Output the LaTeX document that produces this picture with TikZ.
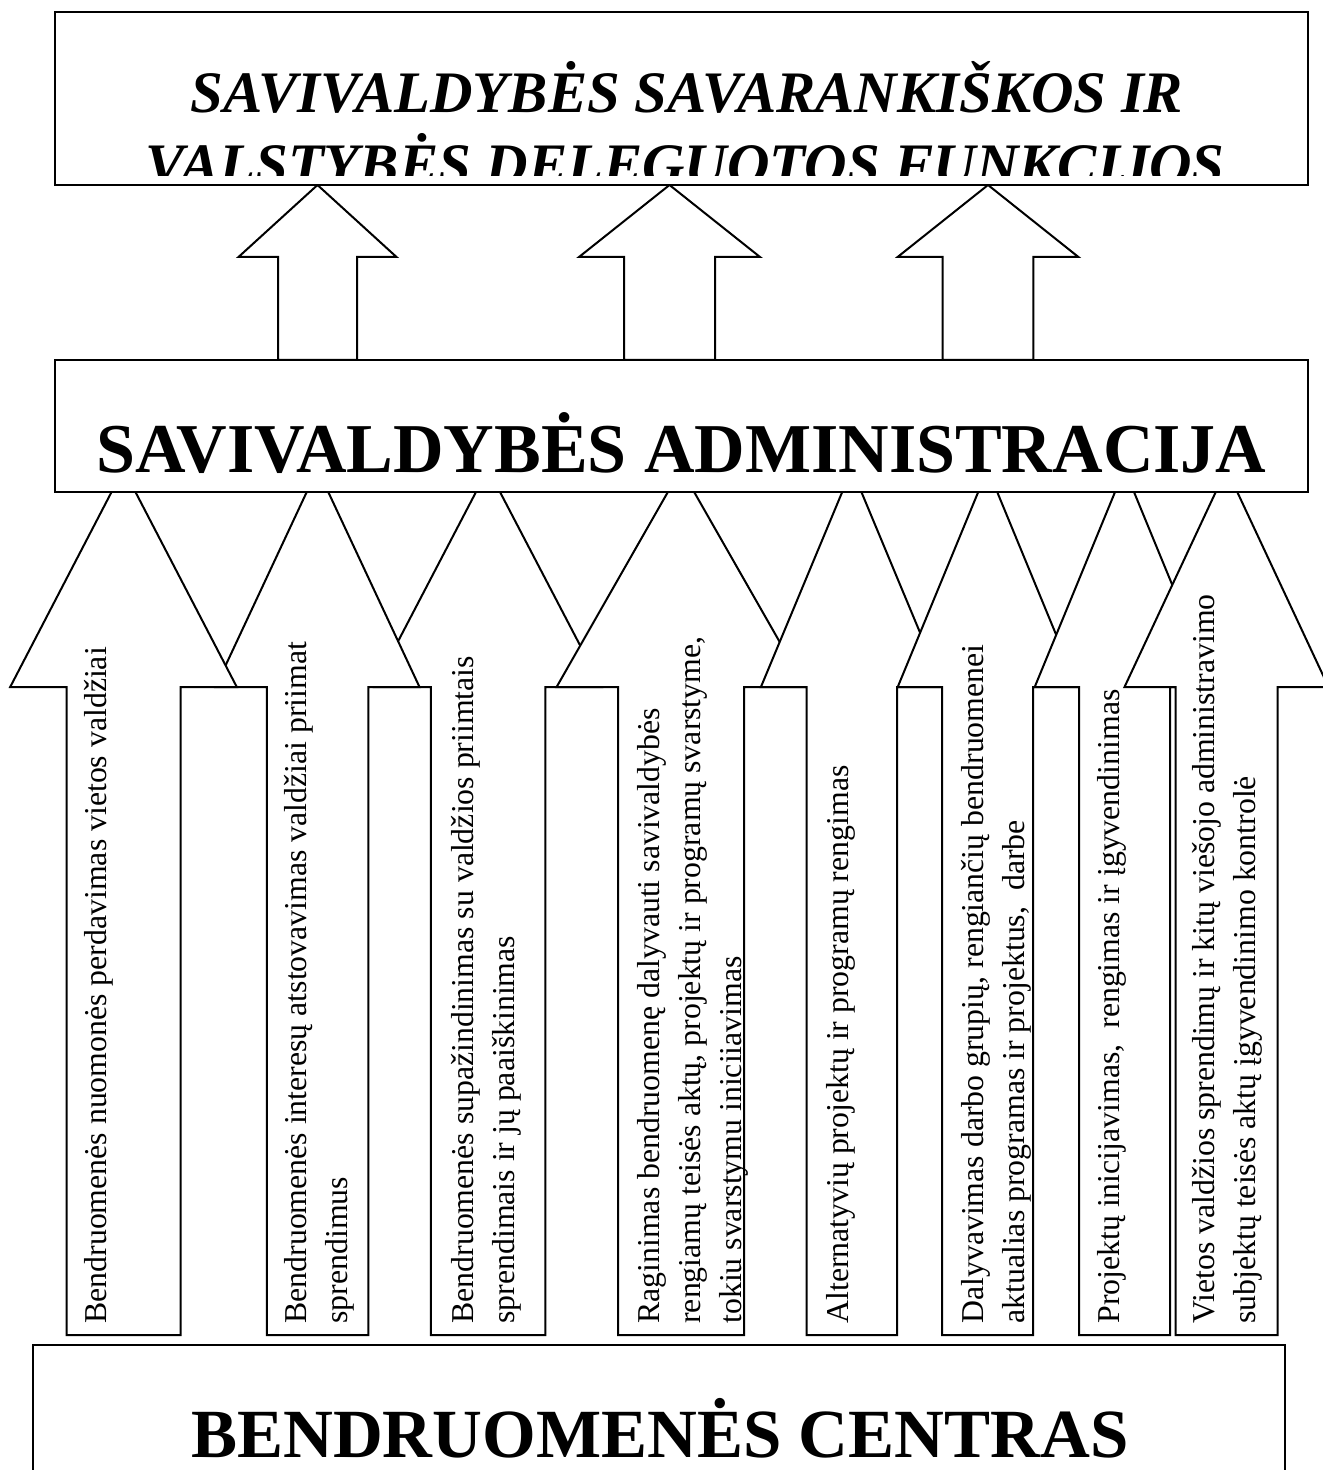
\documentclass[tikz,border=0pt]{standalone}
\usepackage{fontspec}
\setmainfont{Liberation Serif}
\newcommand{\uparrowshape}[6]{%
  \draw[arrowshape] (#1,#4) -- ({#1+#2},#5) -- ({#1+#3},#5) -- ({#1+#3},#6) -- ({#1-#3},#6) -- ({#1-#3},#5) -- ({#1-#2},#5) -- cycle;}
\begin{document}
\begin{tikzpicture}[x=0.5pt,y=-0.5pt,
  arrowshape/.style={draw,line width=1pt,fill=white,line join=miter},
  boxstyle/.style={draw,line width=1.1pt,fill=white,inner sep=0pt},
  lbl/.style={rotate=90,anchor=base west,inner sep=0pt,font=\fontsize{15.9}{19}\selectfont},
  toptitle/.style={anchor=base,inner sep=0pt,font=\fontsize{29.4}{36}\selectfont\bfseries\itshape},
  bigtitle/.style={anchor=base,inner sep=0pt,font=\fontsize{35}{40}\selectfont\bfseries}]
\useasboundingbox (0,0) rectangle (1322,1470);
% lower arrows (drawing order gives the overlaps)
\uparrowshape{488}{113.8}{57.25}{469}{687}{1335}
\node[lbl] (a3l1) at (473.7,1324) {Bendruomenės supažindinimas su valdžios priimtais};
\node[lbl] (a3l2) at (514.7,1324) {sprendimais ir jų paaiškinimas};
\uparrowshape{317.5}{102}{50.75}{469}{687}{1335}
\node[lbl] (a2l1) at (306.7,1324) {Bendruomenės interesų atstovavimas valdžiai priimat};
\node[lbl] (a2l2) at (347.7,1324) {sprendimus};
\uparrowshape{123.5}{113.3}{57}{469}{687}{1335}
\node[lbl] (a1l1) at (106.7,1324) {Bendruomenės nuomonės perdavimas vietos valdžiai};
\uparrowshape{681}{124.4}{63}{469}{687}{1335}
\node[lbl] (a4l1) at (659.7,1324) {Raginimas bendruomenę dalyvauti savivaldybės};
\node[lbl] (a4l2) at (700.7,1324) {rengiamų teisės aktų, projektų ir programų svarstyme,};
\node[lbl] (a4l3) at (741.7,1324) {tokiu svarstymu iniciiavimas};
\uparrowshape{851.8}{90.9}{45.2}{469}{687}{1335}
\node[lbl] (a5l1) at (848.7,1324) {Alternatyvių projektų ir programų rengimas};
\uparrowshape{987.7}{90}{45.5}{469}{687}{1335}
\node[lbl] (a6l1) at (983.7,1324) {Dalyvavimas darbo grupių, rengiančių bendruomenei};
\node[lbl] (a6l2) at (1024.7,1324) {aktualias programas ir projektus,\ \ darbe};
\uparrowshape{1124.5}{89.8}{45.5}{469}{687}{1335}
\node[lbl] (a7l1) at (1119.7,1324) {Projektų inicijavimas,\ \ rengimas ir įgyvendinimas};
\uparrowshape{1226.5}{102}{51}{469}{687}{1335}
\node[lbl] (a8l1) at (1214.7,1324) {Vietos valdžios sprendimų ir kitų viešojo administravimo};
\node[lbl] (a8l2) at (1255.7,1324) {subjektų teisės aktų įgyvendinimo kontrolė};
% upper arrows
\uparrowshape{317.5}{79}{39.5}{185}{257}{360}
\uparrowshape{669.5}{90.5}{45.5}{185}{257}{360}
\uparrowshape{988}{90.4}{45.4}{185}{257}{360}
% boxes
\node[boxstyle,minimum width=626.5pt,minimum height=86.5pt] (topbox) at (681.5,98.5) {};
\node[boxstyle,minimum width=626.5pt,minimum height=66pt] (midbox) at (681.5,426) {};
\node[boxstyle,minimum width=626pt,minimum height=75pt] (botbox) at (659,1420) {};
\begin{scope}
\clip (56,13) rectangle (1307,176);
\node[toptitle] (tt1) at (687,113) {SAVIVALDYBĖS SAVARANKIŠKOS IR};
\node[toptitle] (tt2) at (685,185) {VALSTYBĖS DELEGUOTOS FUNKCIJOS};
\end{scope}
\node[bigtitle] (midtitle) at (681.5,473) {SAVIVALDYBĖS ADMINISTRACIJA};
\node[bigtitle,font=\fontsize{34.5}{40}\selectfont\bfseries] (bottitle) at (660,1457) {BENDRUOMENĖS CENTRAS};
\end{tikzpicture}
\end{document}
